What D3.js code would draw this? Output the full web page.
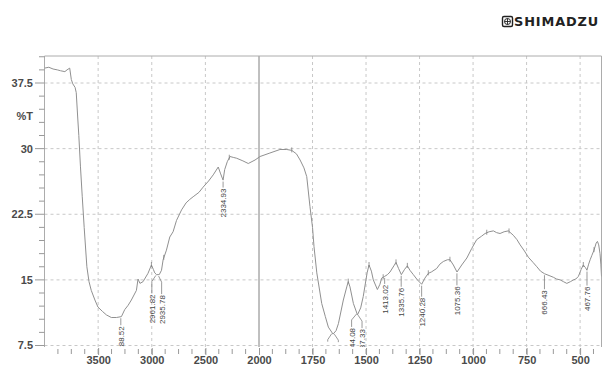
<!DOCTYPE html>
<html><head><meta charset="utf-8">
<script src="https://cdn.jsdelivr.net/npm/d3@7"></script>
<style>body{margin:0;background:#fff}svg{display:block}</style>
</head><body>
<svg id="c" width="607" height="367"></svg>
<script>
// ---- data ----
const wavenumbers = [4000,3960,3920,3880,3850,3810,3790,3765,3750,3736,3715,3704,3690,3680,3665,3648,3630,3605,3585,3564,3530,3502,3460,3423,3377,3330,3283,3252,3220,3190,3143,3128,3110,3081,3035,3003,2985,2972,2955,2941,2930,2909,2894,2863,2832,2801,2769,2722,2680,2645,2614,2560,2521,2470,2427,2380,2360,2335,2320,2296,2271,2240,2208,2150,2100,2037,1995,1949,1902,1870,1847,1825,1808,1790,1777,1762,1750,1743,1730,1707,1690,1676,1654,1640,1629,1606,1590,1583,1575,1559,1540,1525,1513,1495,1486,1475,1466,1447,1435,1427,1413,1400,1388,1370,1360,1348,1335,1320,1307,1295,1279,1260,1240,1225,1209,1195,1170,1155,1139,1120,1108,1092,1075,1053,1029,1006,983,960,944,925,905,890,874,855,835,812,795,780,760,742,720,702,685,666,645,625,610,593,578,562,545,531,520,508,495,485,475,468,460,453,445,435,425,419,413,407,403,400];
const transmittance = [39.2,39.3,39.1,39.0,38.9,38.8,39.0,39.2,37.9,37.4,37.0,36.4,33.5,31.5,28.0,24.5,21.0,16.5,14.8,13.8,12.7,11.9,11.4,11.0,10.7,10.7,10.8,11.6,12.1,12.7,13.8,15.1,14.6,14.8,15.75,16.7,16.2,15.8,15.6,15.6,15.6,16.1,17.3,18.4,19.9,20.5,21.8,23.0,23.8,24.2,24.5,25.0,25.6,26.3,27.0,27.9,27.2,26.4,27.6,28.5,29.1,29.0,28.9,28.6,28.3,28.7,29.1,29.5,29.9,29.9,29.8,29.4,28.7,27.8,26.8,23.4,21.0,18.8,15.8,12.3,10.8,9.6,8.8,9.2,10.0,12.7,14.2,14.8,14.2,12.3,11.0,11.8,13.1,15.8,16.7,16.0,15.0,13.9,14.5,15.2,15.4,15.6,15.9,16.6,17.0,16.3,15.6,16.2,16.6,16.1,15.6,15.0,14.5,15.2,15.75,15.9,16.3,16.8,17.1,17.3,17.3,16.7,15.9,16.7,17.5,18.6,19.6,20.0,20.3,20.5,20.6,20.4,20.3,20.5,20.6,20.1,19.6,19.0,18.3,17.6,17.0,16.5,16.0,15.7,15.5,15.3,15.1,15.0,14.8,14.6,14.8,15.0,15.1,15.4,16.2,16.7,16.4,16.1,16.8,17.3,17.8,18.4,19.2,19.4,19.0,18.0,16.8,15.4];

const peakWavenumbers = [3288.52,2961.82,2935.78,2334.93,1660.20,1648.10,1544.08,1537.33,1413.02,1335.76,1240.28,1075.36,666.43,467.76];
const peakLabels = ["3288.52","2961.82","2935.78","2334.93","1660.20","1648.10","1544.08","1537.33","1413.02","1335.76","1240.28","1075.36","666.43","467.76"];
const peakLabelShift = [0,-4,3,0,-4,4,-5,4,0,0,0,0,0,0];
const peakLeader = [7,18,18,6,8,8,13,13,6,11,11,12,14,14];
const peakShowText = [1,1,1,1,0,0,1,1,1,1,1,1,1,1];

const markerWavenumbers = [3003,2888,2277,1847,1583,1486,1420,1360,1307,1209,1108,936,832,485,435];

const xMajorTicks = [3500,3000,2500,2000,1750,1500,1250,1000,750,500];
const yGridValues = [7.5,15,22.5,30,37.5];
const yTickLabels = ["7.5","15","22.5","30","37.5"];
const yTitle = "%T";
const brand = "SHIMADZU";

// ---- layout ----
const svg = d3.select("#c");
const L = 44.5, R = 601.5, T = 56, B = 347;
const x = d3.scaleLinear().domain([4000,2000,400]).range([L,259,R]);
const y = d3.scaleLinear().domain([7.5,37.5]).range([345.5,83]);
const font = "'Liberation Sans', Arial, sans-serif";

svg.append("defs").append("clipPath").attr("id","clip")
  .append("rect").attr("x",L).attr("y",T).attr("width",R-L).attr("height",B-T);

// gridlines
const grid = svg.append("g");
grid.selectAll("line.h").data(yGridValues).join("line")
  .attr("x1",L).attr("x2",R).attr("y1",d=>y(d)).attr("y2",d=>y(d))
  .attr("stroke","#c8c8c8").attr("stroke-dasharray","3,3");
grid.selectAll("line.v").data(xMajorTicks.filter(d=>d!==2000)).join("line")
  .attr("x1",d=>x(d)).attr("x2",d=>x(d)).attr("y1",T).attr("y2",B)
  .attr("stroke","#c8c8c8").attr("stroke-dasharray","3,3");
grid.append("line").attr("x1",x(2000)).attr("x2",x(2000)).attr("y1",T).attr("y2",B)
  .attr("stroke","#808080").attr("stroke-width",1);

// frame
svg.append("path").attr("d",`M${L},${B}V${T}H${R}V${B}`)
  .attr("fill","none").attr("stroke","#acacac").attr("stroke-width",1);

// y ticks
const yMinor = d3.range(7.5, 40.6, 1.5);
svg.append("g").selectAll("line").data(yMinor).join("line")
  .attr("x1",d=> (Math.abs((d/7.5)-Math.round(d/7.5))<1e-6)?35:39).attr("x2",L)
  .attr("y1",d=>y(d)).attr("y2",d=>y(d)).attr("stroke","#999");
svg.append("g").selectAll("text").data(yGridValues).join("text")
  .attr("x",33).attr("y",d=>y(d)).attr("dy","0.36em").attr("text-anchor","end")
  .attr("font-family",font).attr("font-weight","bold").attr("font-size",11).attr("fill","#4a4a4a")
  .text((d,i)=>yTickLabels[i]);
svg.append("text").attr("x",33).attr("y",y(33.75)).attr("dy","0.36em").attr("text-anchor","end")
  .attr("font-family",font).attr("font-weight","bold").attr("font-size",11).attr("fill","#4a4a4a")
  .text(yTitle);

// x ticks
const xMinor = d3.range(3875, 2000, -125).concat(d3.range(1937.5, 400, -62.5));
svg.append("g").selectAll("line").data(xMinor).join("line")
  .attr("x1",d=>x(d)).attr("x2",d=>x(d)).attr("y1",349).attr("y2",354).attr("stroke","#999");
const xAxis = d3.axisBottom(x).tickValues(xMajorTicks).tickSize(7).tickFormat(d3.format("d"));
const gx = svg.append("g").attr("transform",`translate(0,${348})`).call(xAxis);
gx.select(".domain").remove();
gx.selectAll(".tick line").attr("stroke","#999");
gx.selectAll(".tick text").attr("font-family",font).attr("font-weight","bold")
  .attr("font-size",11).attr("fill","#4a4a4a").attr("dy","0.5em");

// curve
const data = wavenumbers.map((w,i)=>({w, t:transmittance[i]}));
const line = d3.line().x(d=>x(d.w)).y(d=>y(d.t)).curve(d3.curveLinear);
const plot = svg.append("g").attr("clip-path","url(#clip)");
plot.append("path").datum(data).attr("d",line)
  .attr("fill","none").attr("stroke","#909090").attr("stroke-width",1);

const wAsc = wavenumbers.slice().reverse(), tAsc = transmittance.slice().reverse();
function tAt(w){
  const i = d3.bisectLeft(wAsc, w);
  if(i<=0) return tAsc[0];
  if(i>=wAsc.length) return tAsc[tAsc.length-1];
  const a=wAsc[i-1], b=wAsc[i];
  return tAsc[i-1] + (tAsc[i]-tAsc[i-1])*(w-a)/(b-a);
}

// peak markers
plot.append("g").selectAll("line").data(markerWavenumbers).join("line")
  .attr("x1",d=>x(d)).attr("x2",d=>x(d))
  .attr("y1",d=>y(tAt(d))-3).attr("y2",d=>y(tAt(d))+2)
  .attr("stroke","#808080").attr("stroke-width",0.8);

// peak labels
const pk = plot.append("g");
peakWavenumbers.forEach((w,i)=>{
  const px = x(w), py = y(tAt(w)) + 1.5;
  const lx = px + peakLabelShift[i];
  const ly = py + peakLeader[i];
  const path = peakLabelShift[i]===0 ? `M${px},${py}V${ly}` :
     `M${px},${py}L${lx},${py+6}V${ly}`;
  pk.append("path").attr("d",path).attr("fill","none").attr("stroke","#808080").attr("stroke-width",0.8);
  if(peakShowText[i]){
    pk.append("text").attr("transform",`translate(${lx+3},${ly+1}) rotate(-90)`)
      .attr("text-anchor","end").attr("font-family",font).attr("font-size",8)
      .attr("fill","#444").text(peakLabels[i]);
  }
});

// brand logo
const lg = svg.append("g");
lg.append("rect").attr("x",502.5).attr("y",16.5).attr("width",10).attr("height",10).attr("rx",1.5)
  .attr("fill","none").attr("stroke","#222").attr("stroke-width",1.4);
lg.append("circle").attr("cx",507.5).attr("cy",21.5).attr("r",3).attr("fill","none").attr("stroke","#222").attr("stroke-width",1);
lg.append("path").attr("d","M507.5,18.5V24.5M504.5,21.5H510.5").attr("stroke","#222").attr("stroke-width",0.9);
lg.append("text").attr("transform","translate(514,26) scale(1.12,1)")
  .attr("font-family","'DejaVu Sans', sans-serif").attr("font-weight","bold").attr("font-size",11.5)
  .attr("letter-spacing",0.8).attr("fill","#222").text(brand);
</script>
</body></html>
